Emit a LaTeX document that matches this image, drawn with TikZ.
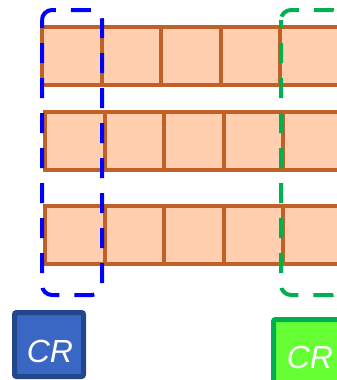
\documentclass[tikz,border=0pt]{standalone}
\usepackage{fontspec}
\usepackage{xcolor}
\setsansfont{Liberation Sans}
\definecolor{brick}{HTML}{BF6128}
\definecolor{peach}{HTML}{FFCFB0}
\definecolor{crblue}{HTML}{3A66C4}
\definecolor{crblueedge}{HTML}{24478C}
\definecolor{crgreen}{HTML}{66FF33}
\definecolor{selgreen}{HTML}{00B050}

\begin{document}
\begin{tikzpicture}[x=1pt,y=-1pt,line width=4pt,
  crbox/.style={rectangle,rounded corners=2pt,line width=5pt,minimum width=69pt,minimum height=64pt,inner sep=0pt},
  crtext/.style={text=white,font=\sffamily\itshape\fontsize{32}{32}\selectfont,inner sep=0pt},
  sel/.style={dash pattern=on 20pt off 15pt,dash phase=12pt,rounded corners=10pt}]
\useasboundingbox (0,0) rectangle (337,380);
\clip (0,0) rectangle (337,380);
\def\W{59.5}
\def\Hh{57.5}
\newcommand{\cellrow}[2]{\foreach \i in {0,...,4} \draw[brick,fill=peach] (#1+\i*\W,#2) rectangle ++(\W,\Hh);}
\cellrow{42}{27}
\cellrow{45}{112}
\cellrow{45}{206}
% selections
\draw[blue,sel] (42,10) rectangle (102,295);
\draw[selgreen,sel] (281,10) rectangle (343,295);
% labels
\node[crbox,fill=crblue,draw=crblueedge] (crA) at (49,344.5) {};
\node[crtext] (crAtext) at ([xshift=1pt,yshift=-7pt]crA.center) {CR};
\node[crbox,fill=crgreen,draw=selgreen] (crB) at (308,351.5) {};
\node[crtext] (crBtext) at ([xshift=2pt,yshift=-6pt]crB.center) {CR};
\end{tikzpicture}
\end{document}
